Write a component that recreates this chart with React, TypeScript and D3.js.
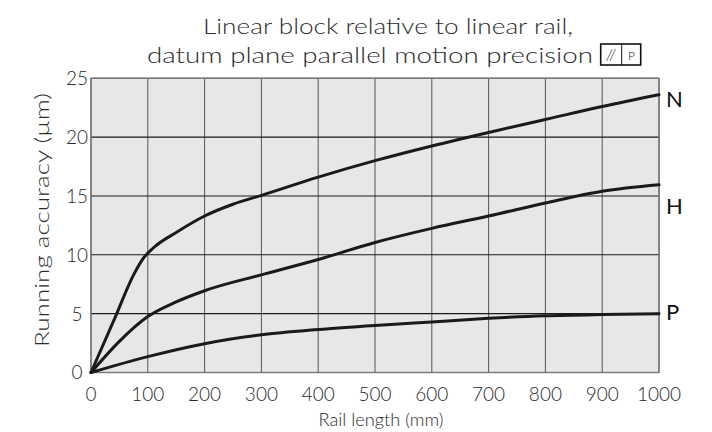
import React from 'react';
import * as d3 from 'd3';

const xTicks = [0, 100, 200, 300, 400, 500, 600, 700, 800, 900, 1000];
const yTicks = [0, 5, 10, 15, 20, 25];

const nLength = [0, 40, 75, 92, 110, 150, 200, 250, 300, 400, 500, 600, 700, 800, 900, 1000];
const nAccuracy = [0, 4.4, 8.3, 9.7, 10.6, 11.9, 13.3, 14.3, 15.05, 16.6, 18.0, 19.25, 20.4, 21.5, 22.6, 23.6];

const hLength = [0, 50, 100, 150, 200, 300, 400, 500, 600, 700, 800, 900, 1000];
const hAccuracy = [0, 2.65, 4.75, 6.0, 6.95, 8.3, 9.6, 11.05, 12.25, 13.3, 14.4, 15.4, 15.95];

const pLength = [0, 100, 200, 300, 400, 500, 600, 700, 800, 900, 1000];
const pAccuracy = [0, 1.35, 2.45, 3.2, 3.65, 4.0, 4.3, 4.6, 4.82, 4.93, 5.0];

const seriesNames = ['N', 'H', 'P'];

const titleLine1 = 'Linear block relative to linear rail,';
const titleLine2 = 'datum plane parallel motion precision';
const xTitle = 'Rail length (mm)';
const yTitle = 'Running accuracy (µm)';

const FONT = 'Lato, "DejaVu Sans", sans-serif';
const TXT = '#2b2b2b';
const W = 300;

export default function App() {
  const x = d3.scaleLinear().domain([0, 1000]).range([91, 659]);
  const y = d3.scaleLinear().domain([0, 25]).range([372.5, 78.3]);

  const series = [
    { name: seriesNames[0], xs: nLength, ys: nAccuracy, ly: 99 },
    { name: seriesNames[1], xs: hLength, ys: hAccuracy, ly: 206 },
    { name: seriesNames[2], xs: pLength, ys: pAccuracy, ly: 312 },
  ];

  const line = d3
    .line<[number, number]>()
    .x((d) => x(d[0]))
    .y((d) => y(d[1]))
    .curve(d3.curveMonotoneX);

  const [x0, x1] = x.range();
  const [y0, y1] = y.range();

  return (
    <svg
      width={712}
      height={432}
      style={{ position: 'absolute', left: 0, top: 0, background: '#fff' }}
      fontFamily={FONT}
      fontWeight={W}
    >
      {/* title */}
      <text x={388} y={34} textAnchor="middle" fontSize={22} fill={TXT}
        textLength={370} lengthAdjust="spacingAndGlyphs">{titleLine1}</text>
      <text x={370} y={62.5} textAnchor="middle" fontSize={22} fill={TXT}
        textLength={446} lengthAdjust="spacingAndGlyphs">{titleLine2}</text>
      <g>
        <rect x={600.7} y={44} width={40} height={21} fill="#fff" stroke="#111" strokeWidth={1.6} />
        <line x1={621.7} y1={44} x2={621.7} y2={65} stroke="#111" strokeWidth={1} />
        <text x={611} y={60} textAnchor="middle" fontSize={15} fontStyle="italic" fill="#111">//</text>
        <text x={631.5} y={59.5} textAnchor="middle" fontSize={12} fill="#111">P</text>
      </g>

      {/* plot background */}
      <rect x={x0} y={y1} width={x1 - x0} height={y0 - y1} fill="#e6e7e9" />

      {/* vertical grid */}
      {xTicks.map((t) => (
        <line key={'vx' + t} x1={x(t)} x2={x(t)} y1={y1} y2={y0} stroke="#555" strokeWidth={1} />
      ))}
      {/* horizontal grid */}
      {yTicks.map((t) => (
        <line key={'hy' + t} x1={x0} x2={x1} y1={y(t)} y2={y(t)} stroke="#1a1a1a" strokeWidth={1.1} />
      ))}
      {/* border */}
      <rect x={x0} y={y1} width={x1 - x0} height={y0 - y1} fill="none" stroke="#777" strokeWidth={1.4} />

      {/* curves */}
      {series.map((s) => (
        <path
          key={s.name}
          d={line(s.xs.map((v, i) => [v, s.ys[i]] as [number, number])) || ''}
          fill="none"
          stroke="#1a1a1a"
          strokeWidth={3}
          strokeLinejoin="round"
          strokeLinecap="round"
        />
      ))}

      {/* series labels */}
      {series.map((s) => (
        <text key={'lbl' + s.name} x={666} y={s.ly} dy="0.36em" fontSize={22} fontWeight={400} fill="#111">
          {s.name}
        </text>
      ))}

      {/* y tick labels */}
      {yTicks.map((t) => (
        <text key={'yl' + t} x={77} y={y(t)} dy="0.36em" textAnchor="middle" fontSize={19} fill={TXT}>
          {t}
        </text>
      ))}
      {/* x tick labels */}
      {xTicks.map((t) => (
        <text key={'xl' + t} x={x(t)} y={400.5} textAnchor="middle" fontSize={19} fill={TXT}>
          {t}
        </text>
      ))}

      {/* axis titles */}
      <text x={381} y={426} textAnchor="middle" fontSize={18} fill={TXT}
        textLength={125} lengthAdjust="spacingAndGlyphs">{xTitle}</text>
      <text transform="translate(49,220) rotate(-90)" textAnchor="middle" fontSize={19} fill={TXT}
        textLength={254} lengthAdjust="spacingAndGlyphs">{yTitle}</text>
    </svg>
  );
}
